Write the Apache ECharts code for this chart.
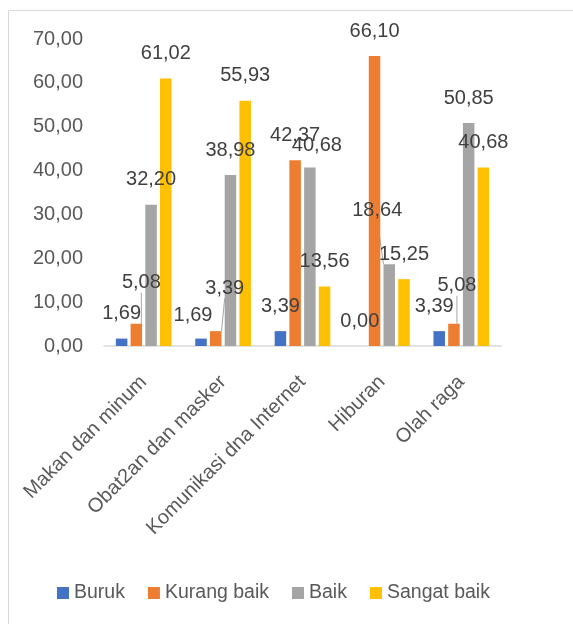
<!DOCTYPE html>
<html>
<head>
<meta charset="utf-8">
<script src="https://cdn.jsdelivr.net/npm/echarts@6/dist/echarts.min.js"></script>
<style>html,body{margin:0;padding:0;background:#fff}#c{width:573px;height:624px}</style>
</head>
<body>
<div id="c"></div>
<script>
const categories = ['Makan dan minum', 'Obat2an dan masker', 'Komunikasi dna Internet', 'Hiburan', 'Olah raga'];
const seriesNames = ['Buruk', 'Kurang baik', 'Baik', 'Sangat baik'];
const buruk = [1.69, 1.69, 3.39, 0.00, 3.39];
const kurangBaik = [5.08, 3.39, 42.37, 66.10, 5.08];
const baik = [32.20, 38.98, 40.68, 18.64, 50.85];
const sangatBaik = [61.02, 55.93, 13.56, 15.25, 40.68];
const yTicks = { min: 0, max: 70, interval: 10 };

const colors = ['#4472C4', '#ED7D31', '#A5A5A5', '#FFC000'];
// label displacement (px) for labels moved in the original, keyed "series-index"
const labelShift = {
  '0-1': [-8, 2], '0-4': [-5, 0],
  '1-0': [5, -16], '1-1': [9, -18], '1-4': [3, -13],
  '2-2': [7, 3], '2-3': [-12, -29]
};
const leader = { '1-0': 1, '1-1': 1, '1-4': 1, '2-3': 1 };

const fmt = v => Number(v).toFixed(2).replace('.', ',');
const FONT = 'Liberation Sans';

const allData = [buruk, kurangBaik, baik, sangatBaik];
const series = allData.map((arr, si) => ({
  name: seriesNames[si],
  type: 'bar',
  barWidth: 11.5,
  barGap: '28%',
  itemStyle: { color: colors[si] },
  data: arr.map((v, di) => leader[si + '-' + di]
    ? { value: v, labelLine: { show: true } }
    : v),
  label: {
    show: true, position: 'top', distance: 15,
    formatter: p => fmt(p.value),
    color: '#404040', fontSize: 20, fontFamily: FONT
  },
  labelLine: { show: false, lineStyle: { color: '#a6a6a6', width: 1 } },
  labelLayout: p => {
    const s = labelShift[p.seriesIndex + '-' + p.dataIndex];
    return s ? { dx: s[0], dy: s[1] } : {};
  }
}));

const chart = echarts.init(document.getElementById('c'), null, { renderer: 'canvas' });
chart.setOption({
  animation: false,
  textStyle: { fontFamily: FONT },
  graphic: [{
    type: 'rect', silent: true,
    shape: { x: 8.5, y: 10.5, width: 700, height: 700 },
    style: { fill: 'none', stroke: '#d9d9d9', lineWidth: 1 }
  }],
  grid: { left: 104, right: 72, top: 39, bottom: 278, containLabel: false },
  legend: {
    data: seriesNames, left: 52, top: 578,
    icon: 'rect', itemWidth: 12, itemHeight: 12, itemGap: 23,
    textStyle: { fontSize: 19.5, color: '#595959', fontFamily: FONT }
  },
  xAxis: {
    type: 'category', data: categories,
    axisTick: { show: false },
    axisLine: { lineStyle: { color: '#d9d9d9', width: 1.5 } },
    axisLabel: { rotate: 45, interval: 0, margin: 33, fontSize: 20, color: '#595959', fontFamily: FONT }
  },
  yAxis: {
    type: 'value', min: yTicks.min, max: yTicks.max, interval: yTicks.interval,
    splitLine: { show: false }, axisLine: { show: false }, axisTick: { show: false },
    axisLabel: { formatter: v => fmt(v), margin: 21, fontSize: 20, color: '#595959', fontFamily: FONT }
  },
  series
});
</script>
</body>
</html>
